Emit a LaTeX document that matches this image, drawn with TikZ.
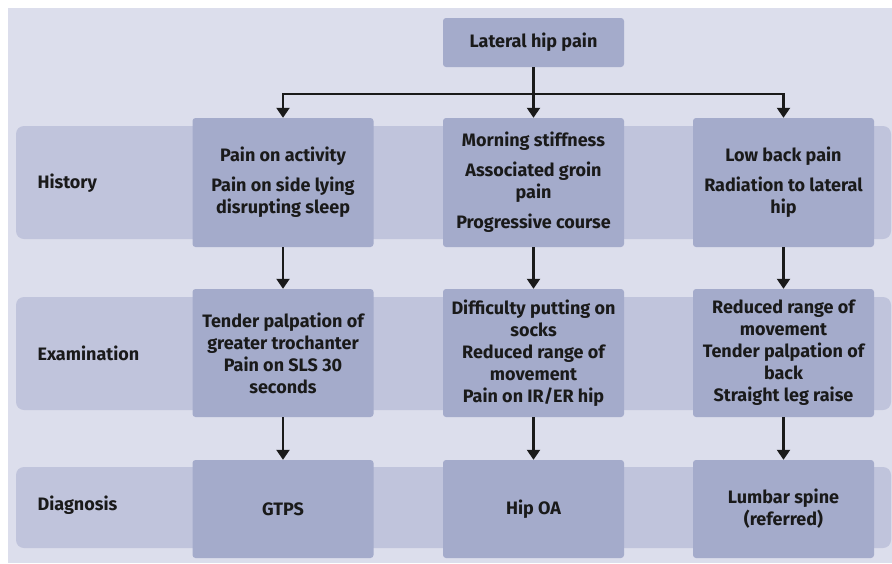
\documentclass[tikz,border=0pt]{standalone}
\usepackage{fontspec}
\setmainfont{Fira Sans}
\usetikzlibrary{arrows.meta}
\definecolor{pagebg}{HTML}{DCDEEC}
\definecolor{bandbg}{HTML}{C0C4DC}
\definecolor{boxbg}{HTML}{A4ABCB}
\definecolor{ink}{HTML}{1A1A1A}
\begin{document}
\begin{tikzpicture}[x=1pt, y=-1pt,
  band/.style={fill=bandbg, rounded corners=8pt},
  box/.style={fill=boxbg, rounded corners=3pt, minimum width=181pt, align=center, inner sep=0pt, text=ink, font=\bfseries\fontsize{18}{22}\selectfont},
  rowlbl/.style={anchor=west, text=ink, font=\bfseries\fontsize{18}{22}\selectfont},
  arr/.style={draw=ink, line width=2.2pt, -{Triangle[width=13pt,length=10pt]}}
]

\useasboundingbox (0,0) rectangle (892,563);
\fill[pagebg] (8,8) rectangle (892,563);

\fill[band] (16,126) rectangle (891,239);
\fill[band] (16,297) rectangle (891,410);
\fill[band] (16,467) rectangle (891,548);

\node[rowlbl] (lhist) at (34,183) {History};
\node[rowlbl] (lexam) at (34,353) {Examination};
\node[rowlbl] (ldiag) at (34,505) {Diagnosis};

\node[box, minimum height=49pt] (pain) at (533.5,42.5) {Lateral hip pain};

\node[box, minimum height=129pt] (hist1) at (283,182.5) {Pain on activity\\[8pt]Pain on side lying\\disrupting sleep};
\node[box, minimum height=129pt] (hist2) at (533.5,182.5) {Morning stiffness\\[8pt]Associated groin\\pain\\[8pt]Progressive course};
\node[box, minimum height=129pt] (hist3) at (783.5,182.5) {Low back pain\\[8pt]Radiation to lateral\\hip};

\node[box, minimum height=128pt] (exam1) at (283,353) {Tender palpation of\\greater trochanter\\Pain on SLS 30\\seconds};
\node[box, minimum height=128pt] (exam2) at (533.5,353) {Difficulty putting on\\socks\\Reduced range of\\movement\\Pain on IR/ER hip};
\node[box, minimum height=128pt] (exam3) at (783.5,353) {Reduced range of\\movement\\Tender palpation of\\back\\Straight leg raise};

\node[box, minimum height=98pt] (diag1) at (283,509) {GTPS};
\node[box, minimum height=98pt] (diag2) at (533.5,509) {Hip OA};
\node[box, minimum height=98pt] (diag3) at (783.5,509) {Lumbar spine\\(referred)};

\coordinate (split) at (533.5,94);
\draw[arr] (pain) -- (hist2);
\draw[arr] (split) -| (hist1.north);
\draw[arr] (split) -| (hist3.north);
\draw[arr] (hist1) -- (exam1);
\draw[arr] (hist2) -- (exam2);
\draw[arr] (hist3) -- (exam3);
\draw[arr] (exam1) -- (diag1);
\draw[arr] (exam2) -- (diag2);
\draw[arr] (exam3) -- (diag3);

\end{tikzpicture}
\end{document}
